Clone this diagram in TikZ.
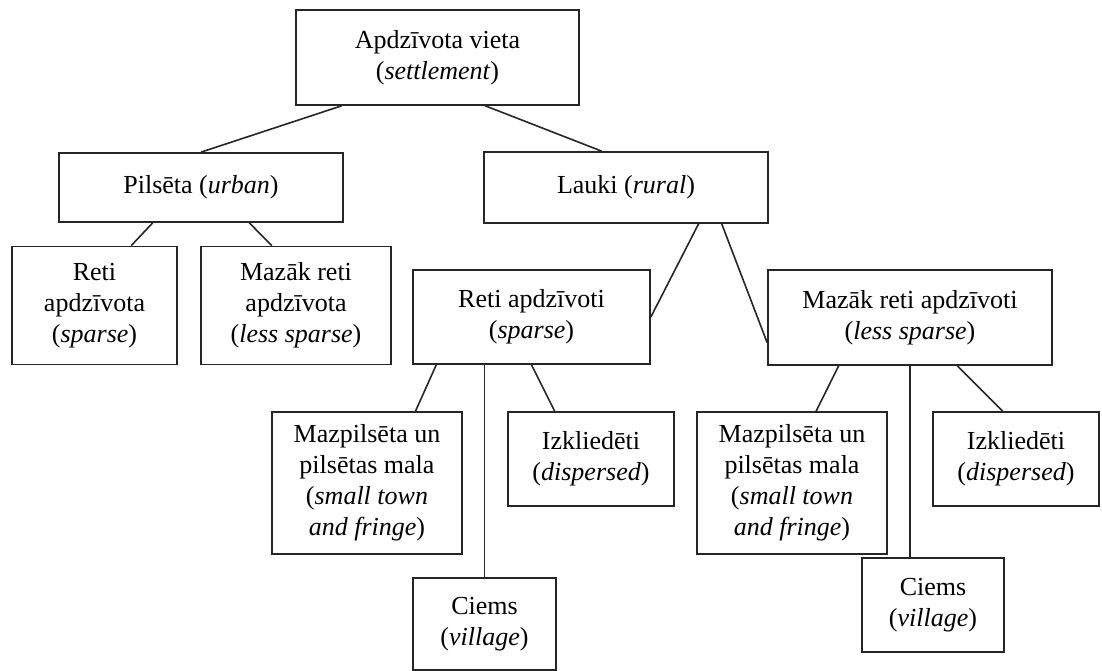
\documentclass[tikz,border=0pt]{standalone}
\usepackage{fontspec}
\setmainfont{Liberation Serif}
\usepackage{tikz}
\usetikzlibrary{positioning,calc}

\begin{document}
\begin{tikzpicture}[x=1pt,y=-1pt,line width=1.6pt,draw=black!85,
    box/.style={draw=black!85,line width=1.7pt,rectangle,align=center,inner sep=0pt,font=\fontsize{26}{31}\selectfont}]
			\useasboundingbox (0,0) rectangle (1102,671);
			\node[box,minimum width=283pt,minimum height=95pt] (vieta) at (437.5,57.5) {Apdzīvota vieta\\(\textit{settlement})};
			\node[box,minimum width=284pt,minimum height=69pt] (pils) at (201,187.5) {Pilsēta (\textit{urban})};
			\node[box,minimum width=284pt,minimum height=71pt] (lauki) at (626,187.5) {Lauki (\textit{rural})};
			\node[box,minimum width=165pt,minimum height=118pt] (retiP) at (94.5,305.5) {Reti\\apdzīvota\\(\textit{sparse})};
			\node[box,minimum width=190pt,minimum height=118pt] (mazP) at (296,305.5) {Mazāk reti\\apdzīvota\\(\textit{less sparse})};
			\node[box,minimum width=237pt,minimum height=94pt] (retiL) at (531.5,317) {Reti apdzīvoti\\(\textit{sparse})};
			\node[box,minimum width=284pt,minimum height=95pt] (mazL) at (910,317.5) {Mazāk reti apdzīvoti\\(\textit{less sparse})};
			\node[box,minimum width=190pt,minimum height=142pt] (mpA) at (367,483) {Mazpilsēta un\\pilsētas mala\\(\textit{small town}\\\textit{and fringe})};
			\node[box,minimum width=166pt,minimum height=94pt] (izA) at (591,459) {Izkliedēti\\(\textit{dispersed})};
			\node[box,minimum width=143pt,minimum height=92pt] (ciA) at (484.5,624) {Ciems\\(\textit{village})};
			\node[box,minimum width=190pt,minimum height=142pt] (mpB) at (792,483) {Mazpilsēta un\\pilsētas mala\\(\textit{small town}\\\textit{and fringe})};
			\node[box,minimum width=166pt,minimum height=94pt] (izB) at (1016,459) {Izkliedēti\\(\textit{dispersed})};
			\node[box,minimum width=142pt,minimum height=94pt] (ciB) at (933,605) {Ciems\\(\textit{village})};

			\draw 	($(vieta.south west)!.163!(vieta.south east)$) edge (pils.north)
					($(vieta.south west)!.668!(vieta.south east)$) edge ($(lauki.north west)!.415!(lauki.north east)$)
					($(pils.south west)!.331!(pils.south east)$) edge ($(retiP.north west)!.72!(retiP.north east)$)
					($(pils.south west)!.669!(pils.south east)$) edge ($(mazP.north west)!.374!(mazP.north east)$)
					($(lauki.south west)!.754!(lauki.south east)$) edge (retiL.east)
					($(lauki.south west)!.835!(lauki.south east)$) edge ($(mazL.north west)!.76!(mazL.south west)$)
					($(retiL.south west)!.101!(retiL.south east)$) edge ($(mpA.north west)!.753!(mpA.north east)$)
					(retiL.south -| ciA.north) edge (ciA.north)
					(retiL.south) edge ($(izA.north west)!.283!(izA.north east)$)
					($(mazL.south west)!.25!(mazL.south east)$) edge ($(mpB.north west)!.626!(mpB.north east)$)
					(mazL.south) edge (mazL.south |- ciB.north)
					($(mazL.south west)!.666!(mazL.south east)$) edge ($(izB.north west)!.42!(izB.north east)$);
			\end{tikzpicture}
\end{document}
